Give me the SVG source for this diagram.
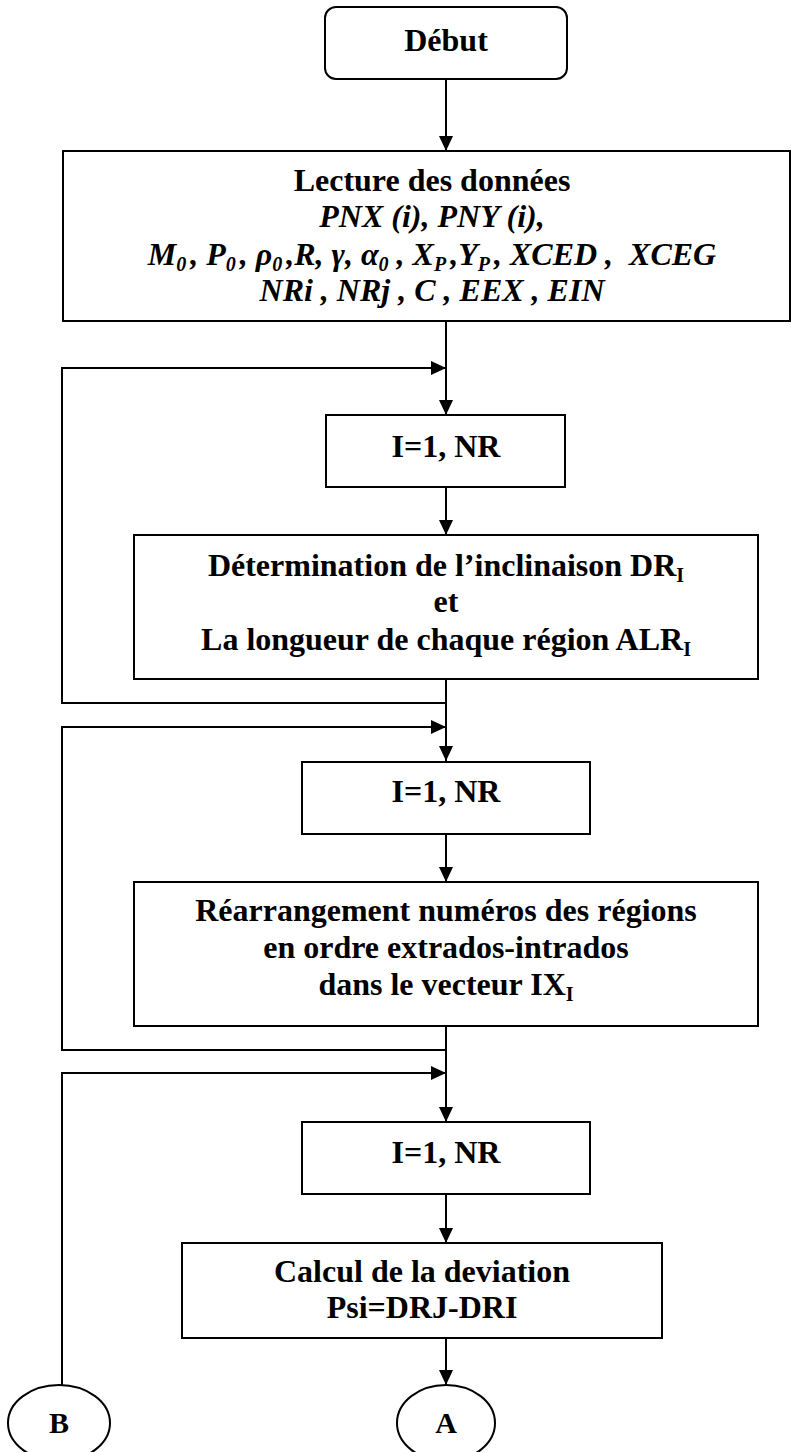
<svg xmlns="http://www.w3.org/2000/svg" width="793" height="1452" viewBox="0 0 793 1452">
  <defs>
    <marker id="arrow" markerUnits="userSpaceOnUse" markerWidth="16" markerHeight="16" refX="15" refY="7" orient="auto">
      <path d="M0,0 L15,7 L0,14 z" fill="#000"/>
    </marker>
    <style>
      .box { fill: #fff; stroke: #000; stroke-width: 2; }
      .wire { fill: none; stroke: #000; stroke-width: 2; }
      .arr { marker-end: url(#arrow); }
      text { font-family: "Liberation Serif", "Times New Roman", serif; font-size: 32px; font-weight: bold; fill: #000; text-anchor: middle; }
      .it { font-style: italic; }
      .sub { font-size: 20px; }
    </style>
  </defs>

  <!-- connectors -->
  <g id="connectors">
    <line class="wire arr" x1="446" y1="79" x2="446" y2="151"/>
    <line class="wire arr" x1="446" y1="321" x2="446" y2="415"/>
    <line class="wire arr" x1="446" y1="487" x2="446" y2="535"/>
    <line class="wire arr" x1="446" y1="679" x2="446" y2="761"/>
    <line class="wire arr" x1="446" y1="834" x2="446" y2="882"/>
    <line class="wire arr" x1="446" y1="1026" x2="446" y2="1122"/>
    <line class="wire arr" x1="446" y1="1194" x2="446" y2="1243"/>
    <line class="wire arr" x1="446" y1="1338" x2="446" y2="1385"/>
    <!-- loop back edges -->
    <polyline class="wire arr" points="446,703 62,703 62,368 446,368"/>
    <polyline class="wire arr" points="446,1050 62,1050 62,727 446,727"/>
    <polyline class="wire arr" points="62,1385 62,1073 446,1073"/>
  </g>

  <g id="debut">
    <rect class="box" x="325" y="7" width="242" height="72" rx="11" ry="11"/>
    <text x="446" y="51">Début</text>
  </g>

  <g id="lecture">
    <rect class="box" x="63" y="151" width="727" height="170"/>
    <text x="432" y="191">Lecture des données</text>
    <text class="it" x="432" y="227">PNX (i), PNY (i),</text>
    <text class="it" x="432" y="265">M<tspan class="sub" dy="6">0</tspan><tspan dx="4" dy="-6">, P</tspan><tspan class="sub" dy="6">0</tspan><tspan dx="4" dy="-6">, ρ</tspan><tspan class="sub" dy="6">0</tspan><tspan dx="4" dy="-6">,R, γ, α</tspan><tspan class="sub" dy="6">0</tspan><tspan dy="-6"> , X</tspan><tspan class="sub" dy="6">P</tspan><tspan dx="4" dy="-6">,Y</tspan><tspan class="sub" dy="6">P</tspan><tspan dx="4" dy="-6">, XCED ,&#160; XCEG</tspan></text>
    <text class="it" x="432" y="301">NRi , NRj , C , EEX , EIN</text>
  </g>

  <g id="loop1">
    <rect class="box" x="326" y="415" width="239" height="72"/>
    <text x="446" y="457">I=1, NR</text>
  </g>

  <g id="determination">
    <rect class="box" x="134" y="535" width="624" height="144"/>
    <text x="446" y="576">Détermination de l’inclinaison DR<tspan class="sub" dy="6">I</tspan></text>
    <text x="446" y="612">et</text>
    <text x="446" y="650">La longueur de chaque région ALR<tspan class="sub" dy="6">I</tspan></text>
  </g>

  <g id="loop2">
    <rect class="box" x="302" y="762" width="288" height="72"/>
    <text x="446" y="802">I=1, NR</text>
  </g>

  <g id="rearrangement">
    <rect class="box" x="134" y="882" width="624" height="144"/>
    <text x="446" y="921">Réarrangement numéros des régions</text>
    <text x="446" y="958">en ordre extrados-intrados</text>
    <text x="446" y="995">dans le vecteur IX<tspan class="sub" dy="6">I</tspan></text>
  </g>

  <g id="loop3">
    <rect class="box" x="302" y="1122" width="288" height="72"/>
    <text x="446" y="1163">I=1, NR</text>
  </g>

  <g id="calcul">
    <rect class="box" x="182" y="1243" width="480" height="95"/>
    <text x="422" y="1282">Calcul de la deviation</text>
    <text x="422" y="1318">Psi=DRJ-DRI</text>
  </g>

  <g id="connector-B">
    <ellipse class="box" cx="59" cy="1423" rx="51" ry="38"/>
    <text x="59" y="1433" style="font-size:30px">B</text>
  </g>

  <g id="connector-A">
    <ellipse class="box" cx="446" cy="1423" rx="49" ry="38"/>
    <text x="446" y="1433" style="font-size:30px">A</text>
  </g>
</svg>
